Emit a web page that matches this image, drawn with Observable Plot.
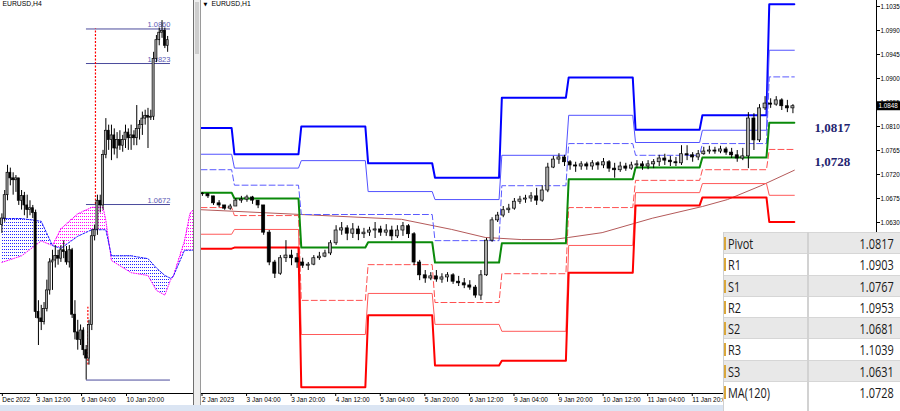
<!DOCTYPE html>
<html><head><meta charset="utf-8">
<script src="https://cdn.jsdelivr.net/npm/d3@7"></script>
<script src="https://cdn.jsdelivr.net/npm/@observablehq/plot@0.6"></script>
<style>
body{margin:0;background:#fff;}
#wrap{position:relative;width:900px;height:411px;overflow:hidden;background:#fff;font-family:"Liberation Sans",Arial,sans-serif;}
#wrap svg{position:absolute;top:0;}
.ln{position:absolute;}
.tbl{position:absolute;left:723px;top:232px;width:177px;height:179px;background:#fff;border-left:1px solid #d0d0d0;font-family:"Open Sans","Noto Sans",sans-serif;color:#1a1a1a;z-index:5;}
.row{position:relative;height:20.3px;border-top:1px solid #d6d6d6;}
.row.g{background:#e8e8e8;}
.bar{position:absolute;left:0;top:4px;width:2px;height:13px;background:#d9a73c;}
.nm{position:absolute;left:4px;top:0;line-height:21px;font-size:14px;transform:scaleX(.78);transform-origin:left center;white-space:nowrap;}
.vl{position:absolute;right:7px;top:0;line-height:21px;font-size:14px;transform:scaleX(.78);transform-origin:right center;white-space:nowrap;}
.div{position:absolute;left:83px;top:0;width:2px;height:179px;background:#d2d2d2;}
</style></head><body><div id="wrap"></div>
<script>
// ================= H4 panel (left) =================
// [open, high, low, close] per H4 bar
const h4Candles = [
[1.0650,1.0662,1.0641,1.0657],[1.0657,1.0687,1.0653,1.0682],[1.0682,1.0714,1.0676,1.0706],[1.0706,1.0711,1.0692,1.0700],
[1.0700,1.0706,1.0682,1.0698],[1.0698,1.0703,1.0685,1.0700],[1.0700,1.0700,1.0671,1.0676],[1.0676,1.0687,1.0666,1.0681],
[1.0681,1.0685,1.0660,1.0671],[1.0671,1.0682,1.0657,1.0666],[1.0666,1.0676,1.0660,1.0668],[1.0668,1.0671,1.0657,1.0663],
[1.0663,1.0666,1.0550,1.0557],[1.0557,1.0569,1.0521,1.0550],[1.0550,1.0564,1.0537,1.0546],[1.0546,1.0567,1.0543,1.0560],
[1.0560,1.0591,1.0557,1.0580],[1.0580,1.0614,1.0575,1.0610],[1.0610,1.0623,1.0580,1.0612],[1.0612,1.0628,1.0604,1.0617],
[1.0617,1.0623,1.0607,1.0614],[1.0614,1.0628,1.0610,1.0623],[1.0623,1.0633,1.0614,1.0621],[1.0621,1.0627,1.0607,1.0610],
[1.0610,1.0628,1.0604,1.0623],[1.0623,1.0625,1.0550,1.0554],[1.0554,1.0569,1.0527,1.0535],[1.0535,1.0548,1.0516,1.0527],
[1.0527,1.0543,1.0521,1.0537],[1.0537,1.0540,1.0510,1.0516],[1.0516,1.0521,1.0484,1.0507],[1.0507,1.0548,1.0500,1.0543],
[1.0543,1.0645,1.0537,1.0638],[1.0638,1.0650,1.0633,1.0645],[1.0645,1.0682,1.0639,1.0676],[1.0676,1.0682,1.0663,1.0671],
[1.0671,1.0730,1.0666,1.0725],[1.0725,1.0764,1.0721,1.0751],[1.0751,1.0757,1.0730,1.0741],[1.0741,1.0757,1.0719,1.0746],
[1.0746,1.0753,1.0725,1.0732],[1.0732,1.0749,1.0721,1.0741],[1.0741,1.0751,1.0730,1.0735],[1.0735,1.0746,1.0728,1.0741],
[1.0741,1.0757,1.0732,1.0749],[1.0749,1.0753,1.0730,1.0743],[1.0743,1.0757,1.0730,1.0746],[1.0746,1.0751,1.0735,1.0743],
[1.0743,1.0778,1.0735,1.0753],[1.0753,1.0762,1.0741,1.0757],[1.0757,1.0771,1.0746,1.0764],[1.0764,1.0773,1.0757,1.0767],
[1.0767,1.0775,1.0732,1.0765],[1.0765,1.0773,1.0762,1.0766],[1.0766,1.0835,1.0762,1.0828],[1.0828,1.0853,1.0824,1.0848],
[1.0848,1.0861,1.0842,1.0856],[1.0856,1.0869,1.0850,1.0858],[1.0858,1.0861,1.0839,1.0842],[1.0842,1.0852,1.0835,1.0848]
];
const h4Levels = [1.0860, 1.0823, 1.0672, 1.0484];
const h4LevelLabels = ["1.0860", "1.0823", "1.0672", ""];
const h4CloudIdx = [0, 7, 14, 18, 21, 27, 32, 36, 37, 39, 46, 52, 55, 58, 60, 61, 65, 67, 69];
const h4SpanA = [1.0610,1.0617,1.0633,1.0628,1.0646,1.0662,1.0669,1.0669,1.0655,1.0612,1.0599,1.0596,1.0580,1.0575,1.0591,1.0595,1.0633,1.0663,1.0668];
const h4SpanB = [1.0657,1.0657,1.0654,1.0628,1.0625,1.0638,1.0645,1.0645,1.0645,1.0617,1.0617,1.0614,1.0604,1.0596,1.0593,1.0595,1.0623,1.0623,1.0623];
const h4MarkerBars = [33.3, 30.6];
const h4MarkerFrom = [1.0672, 1.0500];
const h4MarkerTo = [1.0860, 1.0562];
const h4TickIdx = [-0.2, 12, 28, 44];
const h4TickLabels = ["Dec 2022", "3 Jan 12:00", "6 Jan 04:00", "10 Jan 20:00"];

// ================= H1 panel (right) =================
// [open, high, low, close] every 2 hours, starting 2 Jan 12:00
const h1Candles = [
[1.0684,1.0686,1.0679,1.0683],[1.0683,1.0684,1.0675,1.0679],[1.0679,1.0679,1.0662,1.0666],[1.0666,1.0671,1.0658,1.0662],
[1.0662,1.0662,1.0653,1.0656],[1.0656,1.0664,1.0653,1.0660],[1.0660,1.0675,1.0660,1.0671],[1.0671,1.0679,1.0666,1.0673],
[1.0673,1.0681,1.0668,1.0677],[1.0677,1.0679,1.0664,1.0671],[1.0671,1.0671,1.0656,1.0662],[1.0662,1.0662,1.0606,1.0611],
[1.0611,1.0615,1.0549,1.0555],[1.0555,1.0559,1.0525,1.0534],[1.0534,1.0568,1.0531,1.0563],[1.0563,1.0596,1.0555,1.0568],
[1.0568,1.0578,1.0549,1.0563],[1.0563,1.0572,1.0544,1.0555],[1.0555,1.0563,1.0544,1.0549],[1.0549,1.0555,1.0540,1.0551],
[1.0551,1.0568,1.0549,1.0563],[1.0563,1.0574,1.0559,1.0566],[1.0566,1.0578,1.0564,1.0572],[1.0572,1.0596,1.0568,1.0591],
[1.0591,1.0624,1.0587,1.0615],[1.0615,1.0630,1.0606,1.0619],[1.0619,1.0624,1.0596,1.0609],[1.0609,1.0628,1.0600,1.0617],
[1.0617,1.0623,1.0596,1.0608],[1.0608,1.0619,1.0600,1.0611],[1.0611,1.0621,1.0604,1.0615],[1.0615,1.0630,1.0600,1.0617],
[1.0617,1.0623,1.0604,1.0611],[1.0611,1.0626,1.0604,1.0615],[1.0615,1.0623,1.0596,1.0604],[1.0604,1.0624,1.0600,1.0615],
[1.0615,1.0630,1.0604,1.0623],[1.0623,1.0626,1.0600,1.0608],[1.0608,1.0611,1.0549,1.0555],[1.0555,1.0559,1.0521,1.0531],
[1.0531,1.0540,1.0516,1.0525],[1.0525,1.0536,1.0521,1.0529],[1.0529,1.0540,1.0518,1.0523],[1.0523,1.0534,1.0516,1.0527],
[1.0527,1.0536,1.0518,1.0531],[1.0531,1.0534,1.0514,1.0519],[1.0519,1.0529,1.0510,1.0516],[1.0516,1.0525,1.0506,1.0512],
[1.0512,1.0521,1.0503,1.0508],[1.0508,1.0512,1.0488,1.0493],[1.0493,1.0540,1.0484,1.0531],[1.0531,1.0600,1.0529,1.0596],
[1.0596,1.0639,1.0593,1.0634],[1.0634,1.0649,1.0630,1.0643],[1.0643,1.0660,1.0639,1.0653],[1.0653,1.0664,1.0647,1.0656],
[1.0656,1.0675,1.0653,1.0669],[1.0669,1.0679,1.0664,1.0673],[1.0673,1.0681,1.0666,1.0675],[1.0675,1.0686,1.0668,1.0679],
[1.0679,1.0694,1.0662,1.0671],[1.0671,1.0699,1.0668,1.0690],[1.0690,1.0741,1.0686,1.0733],[1.0733,1.0754,1.0731,1.0748],
[1.0748,1.0759,1.0739,1.0752],[1.0752,1.0756,1.0735,1.0743],[1.0743,1.0746,1.0728,1.0737],[1.0737,1.0743,1.0724,1.0735],
[1.0735,1.0744,1.0728,1.0739],[1.0739,1.0743,1.0728,1.0735],[1.0735,1.0746,1.0728,1.0741],[1.0741,1.0744,1.0728,1.0737],
[1.0737,1.0750,1.0731,1.0743],[1.0743,1.0746,1.0724,1.0731],[1.0731,1.0741,1.0713,1.0728],[1.0728,1.0743,1.0724,1.0735],
[1.0735,1.0741,1.0726,1.0731],[1.0731,1.0743,1.0728,1.0737],[1.0737,1.0746,1.0731,1.0739],[1.0739,1.0744,1.0728,1.0735],
[1.0735,1.0746,1.0729,1.0739],[1.0739,1.0748,1.0731,1.0743],[1.0743,1.0756,1.0735,1.0750],[1.0750,1.0758,1.0737,1.0746],
[1.0746,1.0754,1.0735,1.0743],[1.0743,1.0752,1.0735,1.0741],[1.0741,1.0774,1.0737,1.0758],[1.0758,1.0774,1.0746,1.0756],
[1.0756,1.0761,1.0743,1.0752],[1.0752,1.0765,1.0746,1.0758],[1.0758,1.0771,1.0756,1.0763],[1.0763,1.0773,1.0758,1.0765],
[1.0765,1.0771,1.0758,1.0763],[1.0763,1.0773,1.0759,1.0767],[1.0767,1.0771,1.0756,1.0761],[1.0761,1.0769,1.0750,1.0756],
[1.0756,1.0765,1.0743,1.0750],[1.0750,1.0769,1.0746,1.0754],[1.0754,1.0836,1.0731,1.0825],[1.0825,1.0834,1.0765,1.0784],
[1.0784,1.0851,1.0780,1.0844],[1.0844,1.0866,1.0840,1.0853],[1.0853,1.0862,1.0844,1.0851],[1.0851,1.0866,1.0848,1.0859],
[1.0859,1.0862,1.0840,1.0848],[1.0848,1.0859,1.0836,1.0844],[1.0844,1.0851,1.0834,1.0848]
];
// hour index (from 2 Jan 12:00, trading hours) at which each day's levels start
const dayStart = [0, 12, 36, 60, 84, 108, 132, 156, 180, 204];
const lastHour = 213;
const R3 = [1.0807, 1.0758, 1.0810, 1.0741, 1.0714, 1.0864, 1.0902, 1.0804, 1.0831, 1.1039];
const R2 = [1.0758, 1.0732, 1.0746, 1.0688, 1.0673, 1.0756, 1.0831, 1.0780, 1.0803, 1.0953];
const R1 = [1.0729, 1.0700, 1.0645, 1.0645, 1.0596, 1.0699, 1.0778, 1.0756, 1.0778, 1.0903];
const PP = [1.0686, 1.0675, 1.0583, 1.0593, 1.0555, 1.0591, 1.0711, 1.0733, 1.0752, 1.0817];
const S1 = [1.0658, 1.0643, 1.0484, 1.0551, 1.0480, 1.0534, 1.0658, 1.0709, 1.0729, 1.0767];
const S2 = [1.0608, 1.0617, 1.0420, 1.0497, 1.0439, 1.0426, 1.0587, 1.0686, 1.0703, 1.0681];
const S3 = [1.0581, 1.0583, 1.0321, 1.0456, 1.0362, 1.0371, 1.0536, 1.0662, 1.0677, 1.0631];
const maHour = [0, 36, 72, 90, 102, 115, 126, 132, 144, 162, 180, 189, 201, 213];
const maValue = [1.0654, 1.0645, 1.0636, 1.0617, 1.0602, 1.0598, 1.0598, 1.0602, 1.0611, 1.0638, 1.0660, 1.0673, 1.0699, 1.0728];
const h1TickHour = [0, 16, 32, 48, 64, 80, 96, 112, 128, 144, 160, 176];
const h1TickLabels = ["2 Jan 2023","3 Jan 04:00","3 Jan 20:00","4 Jan 12:00","5 Jan 04:00","5 Jan 20:00","6 Jan 12:00","9 Jan 04:00","9 Jan 20:00","10 Jan 12:00","11 Jan 04:00","11 Jan 20:00"];
const priceTicks = [1.1035, 1.0990, 1.0945, 1.0900, 1.0855, 1.0810, 1.0765, 1.0720, 1.0675, 1.0630];
const lastPrice = 1.0848;
const pivotLabel = "1,0817", pivotValue = 1.0817;
const maLabel = "1,0728", maLast = 1.0728;
const tableNames = ["Pivot", "R1", "S1", "R2", "S2", "R3", "S3", "MA(120)"];
const tableValues = ["1.0817", "1.0903", "1.0767", "1.0953", "1.0681", "1.1039", "1.0631", "1.0728"];

// ================= drawing =================
const wrap = document.getElementById("wrap");
const baseStyle = {background: "transparent", fontFamily: "'Liberation Sans', Arial, sans-serif", fontSize: "6.5px", color: "#000", overflow: "visible"};

function candles(data, xOf, halfW) {
  return [
    Plot.ruleX(data, {x: xOf, y1: d => d[2], y2: d => d[1], stroke: "#000", strokeWidth: 1}),
    Plot.rect(data, {x1: (d, i) => xOf(d, i) - halfW, x2: (d, i) => xOf(d, i) + halfW,
      y1: d => d[0], y2: d => d[3], fill: d => d[3] >= d[0] ? "#a9a9a9" : "#000", stroke: "#000", strokeWidth: 0.7})
  ];
}

// ---- left H4 plot ----
const cloud = h4CloudIdx.map((j, i) => ({j, a: h4SpanA[i], b: h4SpanB[i]}));
const markers = h4MarkerBars.map((j, i) => ({j, y1: h4MarkerFrom[i], y2: h4MarkerTo[i]}));
const h4Lv = h4Levels.map((v, i) => ({v, s: h4LevelLabels[i]}));
const left = Plot.plot({
  width: 193, height: 411, marginTop: 0, marginLeft: 0, marginRight: 0, marginBottom: 18,
  style: baseStyle,
  color: {type: "identity"},
  x: {domain: [-0.5, 68.2]},
  y: {domain: [1.04696, 1.08905], axis: null},
  marks: [
    Plot.areaY(cloud, {x: "j", y1: "b", y2: d => Math.max(d.a, d.b), fill: "url(#dotPink)"}),
    Plot.areaY(cloud, {x: "j", y1: "a", y2: d => Math.max(d.a, d.b), fill: "url(#dotBlue)"}),
    Plot.line(cloud, {x: "j", y: "a", stroke: "#ff00ff", strokeWidth: 1, strokeDasharray: "1,1.5"}),
    Plot.line(cloud, {x: "j", y: "b", stroke: "#1a1aff", strokeWidth: 1, strokeDasharray: "2,1.5"}),
    Plot.ruleY(h4Lv, {y: "v", x1: 30.1, x2: 60, stroke: "#4b4b9c", strokeWidth: 1}),
    Plot.text(h4Lv, {y: "v", x: 60, text: "s", textAnchor: "end", dy: -4, fill: "#5a5ab4", fontSize: 7.5}),
    Plot.ruleX(markers, {x: "j", y1: "y1", y2: "y2", stroke: "#ff0000", strokeWidth: 1.2, strokeDasharray: "2,1.5"}),
    ...candles(h4Candles, (d, i) => i, 0.36),
    Plot.axisX({ticks: h4TickIdx, tickFormat: d => h4TickLabels[h4TickIdx.indexOf(d)], tickSize: 3, tickPadding: 1,
      textAnchor: "start", dx: 1, fontSize: 6.5, label: null, stroke: "#000"}),
    Plot.text(["EURUSD,H4"], {frameAnchor: "top-left", dx: 2, dy: 1, lineAnchor: "top", textAnchor: "start", fontSize: 6.8})
  ]
});
left.style.left = "0px";
wrap.appendChild(left);
const ldefs = d3.select(left).insert("defs", ":first-child");
[["dotPink", "#ff00ff"], ["dotBlue", "#2222ff"]].forEach(([id, c]) => {
  const p = ldefs.append("pattern").attr("id", id).attr("width", 2).attr("height", 3).attr("patternUnits", "userSpaceOnUse");
  p.append("rect").attr("width", 1).attr("height", 1).attr("fill", c);
});

// ---- right H1 plot ----
function levelPts(vals) {
  const pts = [];
  vals.forEach((v, i) => {
    const e = i < vals.length - 1 ? dayStart[i + 1] - 1 : lastHour;
    pts.push({t: dayStart[i], v}, {t: e, v});
  });
  return pts;
}
const levelStyles = [
  [R3, "#0000ff", 2, null], [R2, "#5252ff", 1, null], [R1, "#5a5aff", 1, "6,3"],
  [S1, "#ff5050", 1, "6,3"], [S2, "#ff5a5a", 1, null], [S3, "#ff0000", 2, null],
  [PP, "#0a8a0a", 2, null]
];
const ma = maHour.map((t, i) => ({t, v: maValue[i]}));
const right = Plot.plot({
  width: 700, height: 411, marginTop: 0, marginLeft: 0, marginRight: 24, marginBottom: 18,
  style: baseStyle,
  color: {type: "identity"},
  x: {domain: [-0.18, 242.5]},
  y: {domain: [1.03094, 1.104625]},
  marks: [
    Plot.line(ma, {x: "t", y: "v", stroke: "#b45a5a", strokeWidth: 1}),
    ...levelStyles.map(([vals, c, w, dash]) => Plot.line(levelPts(vals), {x: "t", y: "v", stroke: c, strokeWidth: w, strokeDasharray: dash || undefined})),
    ...candles(h1Candles, (d, i) => 2 * i + 0.5, 0.55),
    Plot.text([pivotValue], {x: 226.7, y: d => d, text: () => pivotLabel, dy: 5, fill: "#1f2470", fontSize: 13, fontWeight: "bold", fontFamily: "'Liberation Serif', 'Times New Roman', serif"}),
    Plot.text([maLast], {x: 226.7, y: d => d, text: () => maLabel, dy: -8, fill: "#1f2470", fontSize: 13, fontWeight: "bold", fontFamily: "'Liberation Serif', 'Times New Roman', serif"}),
    Plot.axisX({ticks: h1TickHour, tickFormat: d => h1TickLabels[h1TickHour.indexOf(d)], tickSize: 3, tickPadding: 1,
      textAnchor: "start", dx: 1, fontSize: 6.5, label: null, stroke: "#000"}),
    Plot.axisY({anchor: "right", ticks: priceTicks, tickFormat: d3.format(".4f"), tickSize: 3, tickPadding: 1, fontSize: 6.3, label: null, stroke: "#000"}),
    Plot.text(["▼"], {frameAnchor: "top-left", dx: 3, dy: 2, lineAnchor: "top", textAnchor: "start", fontSize: 5, fontFamily: "'DejaVu Sans', sans-serif"}),
    Plot.text(["EURUSD,H1"], {frameAnchor: "top-left", dx: 11, dy: 1, lineAnchor: "top", textAnchor: "start", fontSize: 6.8})
  ]
});
right.style.left = "200px";
wrap.appendChild(right);
{
  const yy = right.scale("y").apply(lastPrice);
  const g = d3.select(right).append("g");
  g.append("rect").attr("x", 676).attr("y", yy - 4.5).attr("width", 24).attr("height", 9).attr("fill", "#000");
  g.append("text").attr("x", 678.5).attr("y", yy).attr("dy", "0.32em").attr("fill", "#fff")
    .attr("text-anchor", "start").attr("font-size", 6.3).text(lastPrice.toFixed(4));
}

// ---- frame lines / window chrome ----
function box(l, t, w, h, bg) {
  const d = document.createElement("div");
  d.className = "ln";
  Object.assign(d.style, {left: l + "px", top: t + "px", width: w + "px", height: h + "px", background: bg});
  wrap.appendChild(d);
}
box(0, 393, 193, 1, "#000");          // H4 time axis
box(201, 393, 675, 1, "#000");        // H1 time axis
box(876, 0, 1, 394, "#000");          // H1 price axis
box(193, 0, 1, 406, "#6e6e6e");
box(194, 0, 6, 406, "#eeeeee");
box(195, 2, 4, 52, "#cdcdcd");
box(200, 0, 1, 406, "#9a9a9a");
box(0, 405, 900, 6, "#dbe5f3");

// ---- data table ----
const tbl = document.createElement("div");
tbl.className = "tbl";
tableNames.forEach((n, i) => {
  const r = document.createElement("div");
  r.className = "row" + (i % 2 === 0 ? " g" : "");
  r.innerHTML = `<div class="bar"></div><span class="nm">${n}</span><span class="vl">${tableValues[i]}</span>`;
  tbl.appendChild(r);
});
const dv = document.createElement("div"); dv.className = "div"; tbl.appendChild(dv);
wrap.appendChild(tbl);
</script>
</body></html>
